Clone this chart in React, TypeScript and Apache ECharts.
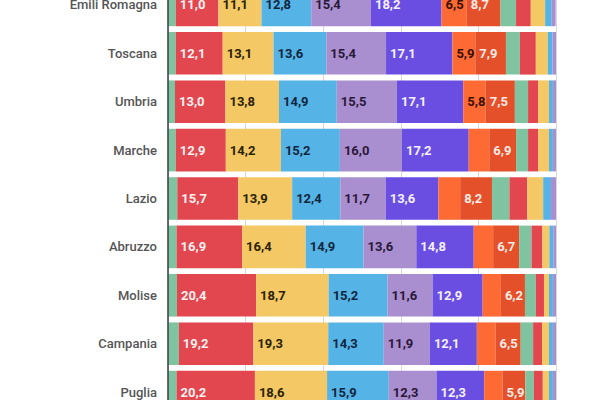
import React, { useEffect, useRef } from 'react';
import * as echarts from 'echarts';

const regions = ['Emili Romagna', 'Toscana', 'Umbria', 'Marche', 'Lazio', 'Abruzzo', 'Molise', 'Campania', 'Puglia'];

// quote percentuali per regione, nell'ordine delle serie
const emilia = [2.0, 11.0, 11.1, 12.8, 15.4, 18.2, 6.5, 8.7, 4.0, 3.8, 3.7, 1.7, 1.0];
const toscana = [2.0, 12.1, 13.1, 13.6, 15.4, 17.1, 5.9, 7.9, 3.6, 4.1, 3.1, 1.2, 0.9];
const umbria = [1.8, 13.0, 13.8, 14.9, 15.5, 17.1, 5.8, 7.5, 3.4, 2.6, 2.8, 1.0, 0.8];
const marche = [2.0, 12.9, 14.2, 15.2, 16.0, 17.2, 5.3, 6.9, 3.1, 2.6, 2.8, 1.0, 0.8];
const lazio = [2.4, 15.7, 13.9, 12.4, 11.7, 13.6, 5.6, 8.2, 4.5, 4.6, 4.1, 2.0, 1.3];
const abruzzo = [2.2, 16.9, 16.4, 14.9, 13.6, 14.8, 5.0, 6.7, 3.2, 2.8, 1.8, 1.0, 0.7];
const molise = [2.3, 20.4, 18.7, 15.2, 11.6, 12.9, 4.7, 6.2, 2.8, 2.1, 1.3, 1.0, 0.8];
const campania = [2.8, 19.2, 19.3, 14.3, 11.9, 12.1, 4.8, 6.5, 3.2, 2.3, 1.8, 1.0, 0.8];
const puglia = [2.2, 20.2, 18.6, 15.9, 12.3, 12.3, 4.7, 5.9, 2.2, 2.3, 1.6, 1.0, 0.8];

const rows = [emilia, toscana, umbria, marche, lazio, abruzzo, molise, campania, puglia];

const colors = [
  '#7fc3a1', '#e2474f', '#f3c865', '#55b3e6', '#a98fd0', '#6a4ee2', '#fd6a34',
  '#e4502a', '#7fc3a1', '#e2474f', '#f3c865', '#55b3e6', '#a98fd0'
];
const labelColors = [
  '#222', '#fdf0f0', '#2b2200', '#10263d', '#2a1838', '#f4f0ff', '#3a0f00',
  '#fdece6', '#222', '#fdf0f0', '#2b2200', '#10263d', '#2a1838'
];

const Chart = () => {
  const ref = useRef<HTMLDivElement>(null);

  useEffect(() => {
    if (!ref.current) return;
    const chart = echarts.init(ref.current, null, { renderer: 'svg' });

    const series = colors.map((color, i) => ({
      name: 'Serie ' + (i + 1),
      type: 'bar',
      stack: 'tot',
      barCategoryGap: '12%',
      data: rows.map(r => r[i]),
      itemStyle: { color },
      label: {
        show: true,
        position: 'insideLeft',
        distance: 4,
        color: labelColors[i],
        fontFamily: 'Roboto',
        fontSize: 13,
        fontWeight: 'bold',
        formatter: (p: any) => (p.value >= 5.75 ? p.value.toFixed(1).replace('.', ',') : '')
      }
    }));

    chart.setOption({
      animation: false,
      // il grafico è tagliato: la prima e l'ultima riga escono dalla finestra
      grid: { left: 168, right: 44, top: 0.7, bottom: 3.7 },
      xAxis: {
        type: 'value',
        min: 0,
        max: 100,
        interval: 20,
        axisLabel: { show: false },
        axisLine: { show: false },
        axisTick: { show: false },
        splitLine: { show: true, lineStyle: { color: '#d8d8d8', width: 1 } }
      },
      yAxis: {
        type: 'category',
        data: regions,
        inverse: true,
        z: 5,
        axisTick: { show: false },
        axisLine: { show: true, lineStyle: { color: '#3c4a45', width: 1.6 } },
        axisLabel: {
          margin: 11,
          color: '#555',
          fontFamily: 'Roboto',
          fontSize: 13,
          fontWeight: 500
        }
      },
      series
    });

    return () => chart.dispose();
  }, []);

  return (
    <div
      ref={ref}
      style={{ position: 'fixed', left: 0, top: '-20px', width: '600px', height: '440px', background: '#fff' }}
    />
  );
};

const App = () => <Chart />;

export default App;
